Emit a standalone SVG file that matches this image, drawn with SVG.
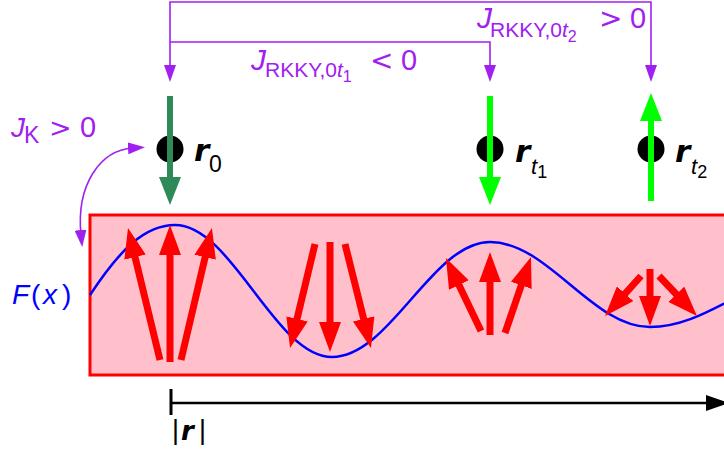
<svg xmlns="http://www.w3.org/2000/svg" width="724" height="454" viewBox="0 0 724 454">
<style>
.t{font-family:"Liberation Sans",Arial,sans-serif}
.rel{font-family:"DejaVu Sans","Liberation Sans",sans-serif}
.vec{font-family:"DejaVu Sans","Liberation Sans",sans-serif;font-weight:bold;font-style:italic}
.pur{fill:#A020F0}
.pline{fill:none;stroke:#A020F0;stroke-width:1.6;marker-end:url(#ph);}
.spin{stroke-width:7;stroke:#FF0000;marker-end:url(#rh)}
.dot{fill:#000}
</style>
<defs>
<marker id="rh" markerUnits="userSpaceOnUse" markerWidth="30" markerHeight="22" refX="10" refY="11" orient="auto"><path d="M0,0 L30,11 L0,22 z" fill="#FF0000"/></marker>
<marker id="gd" markerUnits="userSpaceOnUse" markerWidth="28" markerHeight="22" refX="10" refY="11" orient="auto"><path d="M0,0 L28,11 L0,22 z" fill="#2E8B57"/></marker>
<marker id="gl" markerUnits="userSpaceOnUse" markerWidth="28" markerHeight="22" refX="10" refY="11" orient="auto"><path d="M0,0 L28,11 L0,22 z" fill="#00FF00"/></marker>
<marker id="ph" markerUnits="userSpaceOnUse" markerWidth="17" markerHeight="12" refX="5" refY="6" orient="auto-start-reverse"><path d="M0,0 L17,6 L0,12 z" fill="#A020F0"/></marker>
</defs>

<g id="electron-sea">
<rect x="90" y="215" width="660" height="160" fill="#FFC0CB" stroke="#FF0000" stroke-width="3"/>
<path d="M90,295 C119,251 144,225 175,225 C232,225 275,357 332,357 C390,357 432,242 490,242 C548,242 592,327 650,327 C708,327 750,275 808,275" fill="none" stroke="#0000FF" stroke-width="2.5"/>
<g id="spins-1">
<line class="spin" x1="160" y1="360" x2="132.7" y2="247.4"/>
<line class="spin" x1="170" y1="362" x2="170" y2="245"/>
<line class="spin" x1="181" y1="360" x2="207.4" y2="247.5"/>
</g>
<g id="spins-2">
<line class="spin" x1="315" y1="244" x2="294.7" y2="328.6"/>
<line class="spin" x1="330" y1="242" x2="330" y2="332"/>
<line class="spin" x1="345" y1="244" x2="366.1" y2="328.6"/>
</g>
<g id="spins-3">
<line class="spin" x1="481" y1="331" x2="454.6" y2="276"/>
<line class="spin" x1="490" y1="335" x2="490" y2="272"/>
<line class="spin" x1="505" y1="333" x2="524.5" y2="275.9"/>
</g>
<g id="spins-4">
<line class="spin" x1="641" y1="276" x2="618.4" y2="301.1"/>
<line class="spin" x1="650" y1="269" x2="650" y2="306"/>
<line class="spin" x1="659" y1="276" x2="683.2" y2="301.5"/>
</g>
</g>

<g id="label-F">
<text class="t" y="304" font-size="28" fill="#0000FF"><tspan x="12" font-style="italic">F</tspan><tspan x="31">(</tspan><tspan x="43" font-style="italic">x</tspan><tspan x="62">)</tspan></text>
</g>

<g id="spin-r0">
<circle class="dot" cx="170" cy="149" r="13.5"/>
<line x1="170" y1="96" x2="170" y2="187" stroke="#2E8B57" stroke-width="6" marker-end="url(#gd)"/>
<text class="vec" x="194" y="161" font-size="31">r</text>
<text class="t" x="209" y="172" font-size="23">0</text>
</g>

<g id="spin-rt1">
<circle class="dot" cx="490" cy="149" r="13.5"/>
<line x1="490" y1="96" x2="490" y2="187" stroke="#00FF00" stroke-width="6" marker-end="url(#gl)"/>
<text class="vec" x="515" y="162" font-size="31">r</text>
<text class="t" x="531" y="174" font-size="22"><tspan font-style="italic">t</tspan><tspan dy="4" font-size="18">1</tspan></text>
</g>

<g id="spin-rt2">
<circle class="dot" cx="651" cy="149" r="13.5"/>
<line x1="651" y1="201" x2="651" y2="111" stroke="#00FF00" stroke-width="6" marker-end="url(#gl)"/>
<text class="vec" x="675" y="162" font-size="31">r</text>
<text class="t" x="691" y="174" font-size="22"><tspan font-style="italic">t</tspan><tspan dy="4" font-size="18">2</tspan></text>
</g>

<g id="connectors">
<path class="pline" d="M170,70 V2 H651 V70" marker-start="url(#ph)"/>
<path class="pline" d="M170,42 H490 V70"/>
<path class="pline" d="M81,235 C76,185 100,150 133,148" stroke-width="2.2" marker-start="url(#ph)"/>
</g>

<g id="label-rkky1" class="pur">
<text class="t" x="251" y="70" font-size="30"><tspan font-style="italic">J</tspan><tspan x="265" y="77" font-size="21">RKKY,0</tspan><tspan font-size="21" font-style="italic">t</tspan><tspan dy="5" font-size="16">1</tspan></text>
<text class="rel" x="370" y="70" font-size="28">&lt;</text>
<text class="t" x="401" y="70" font-size="29">0</text>
</g>

<g id="label-rkky2" class="pur">
<text class="t" x="477" y="28" font-size="30"><tspan font-style="italic">J</tspan><tspan x="490" y="37" font-size="21">RKKY,0</tspan><tspan font-size="21" font-style="italic">t</tspan><tspan dy="5" font-size="16">2</tspan></text>
<text class="rel" x="599" y="28" font-size="28">&gt;</text>
<text class="t" x="630" y="28" font-size="29">0</text>
</g>

<g id="label-JK" class="pur">
<text class="t" x="11" y="137" font-size="28" font-style="italic">J</text>
<text class="t" x="24" y="143" font-size="23">K</text>
<text class="rel" x="49" y="137" font-size="27">&gt;</text>
<text class="t" x="80" y="137" font-size="29">0</text>
</g>

<g id="axis">
<line x1="171" y1="389" x2="171" y2="415" stroke="#000" stroke-width="3"/>
<line x1="171" y1="403" x2="712" y2="403" stroke="#000" stroke-width="2.5"/>
<polygon points="706,395 729,403 706,411" fill="#000"/>
<text class="t" x="172" y="439" font-size="27">|</text>
<text class="vec" x="181" y="440" font-size="26">r</text>
<text class="t" x="199" y="439" font-size="27">|</text>
</g>
</svg>
